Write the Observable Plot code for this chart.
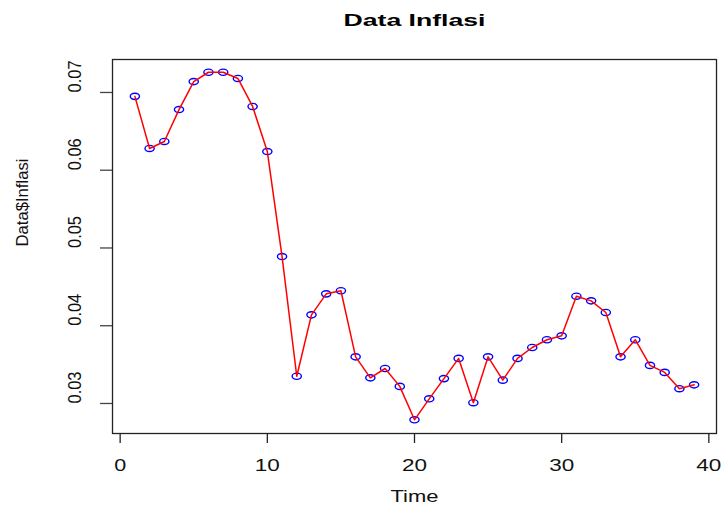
<!DOCTYPE html>
<html>
<head>
<meta charset="utf-8">
<script src="https://cdn.jsdelivr.net/npm/d3@7"></script>
<script src="https://cdn.jsdelivr.net/npm/@observablehq/plot@0.6"></script>
<style>
  html, body { margin: 0; padding: 0; background: #fff; }
  svg { font-family: "Liberation Sans", Arial, sans-serif; }
</style>
</head>
<body>
<div id="chart"></div>
<script>
const time = Array.from({length: 39}, (_, i) => i + 1);
const inflasi = [
  0.0695, 0.0628, 0.0637, 0.0678, 0.0714, 0.0726, 0.0726, 0.0718, 0.0682, 0.0624,
  0.0489, 0.0335, 0.0414, 0.0441, 0.0445, 0.0360, 0.0333, 0.0345, 0.0322, 0.0279,
  0.0306, 0.0332, 0.0358, 0.0301, 0.0360, 0.0330, 0.0358, 0.0372, 0.0382, 0.0387,
  0.0438, 0.0432, 0.0417, 0.0360, 0.0382, 0.0349, 0.0340, 0.0319, 0.0324
];
const xTicks = [0, 10, 20, 30, 40];
const yTicks = [0.03, 0.04, 0.05, 0.06, 0.07];
const title = "Data Inflasi";
const xLabel = "Time";
const yLabel = "Data$Inflasi";

const data = time.map((t, i) => ({t, v: inflasi[i]}));

const ellipse = {
  draw(context) {
    const rx = 4.6, ry = 3.1, k = 0.5523;
    context.moveTo(rx, 0);
    context.bezierCurveTo(rx, k * ry, k * rx, ry, 0, ry);
    context.bezierCurveTo(-k * rx, ry, -rx, k * ry, -rx, 0);
    context.bezierCurveTo(-rx, -k * ry, -k * rx, -ry, 0, -ry);
    context.bezierCurveTo(k * rx, -ry, rx, -k * ry, rx, 0);
    context.closePath();
  }
};

const chart = Plot.plot({
  width: 722,
  height: 508,
  marginLeft: 112,
  marginRight: 6,
  marginTop: 59,
  marginBottom: 75,
  style: {fontFamily: "Liberation Sans, Arial, sans-serif", background: "#fff"},
  x: {domain: [-0.52, 40.52], axis: null},
  y: {domain: [0.02614, 0.07424], axis: null},
  marks: [
    Plot.frame({stroke: "#222", strokeWidth: 1.3}),
    Plot.axisX({ticks: xTicks, tickSize: 10, tickFormat: () => "", label: null, stroke: "#222", strokeWidth: 1.3}),
    Plot.axisY({ticks: yTicks, tickSize: 12, tickFormat: () => "", label: null, stroke: "#444", strokeWidth: 1.3}),
    Plot.text(xTicks, {x: d => d, text: d => String(d), frameAnchor: "bottom", lineAnchor: "middle", dy: 32, fontSize: 17, fill: "#111"}),
    Plot.text(yTicks, {y: d => d, text: d => d.toFixed(2), frameAnchor: "left", dx: -37, rotate: -90, fontSize: 18, fill: "#111"}),
    Plot.text([xLabel], {text: d => d, frameAnchor: "bottom", lineAnchor: "middle", dy: 63, fontSize: 17, fill: "#111"}),
    Plot.text([yLabel], {text: d => d, frameAnchor: "left", dx: -90, rotate: -90, fontSize: 17, fill: "#111"}),
    Plot.text([title], {text: d => d, frameAnchor: "top", lineAnchor: "middle", dy: -39, fontSize: 17, fontWeight: "bold", fill: "#000"}),
    Plot.dot(data, {x: "t", y: "v", symbol: ellipse, stroke: "#0000FF", strokeWidth: 1.4, fill: "none"}),
    Plot.line(data, {x: "t", y: "v", stroke: "#FF0000", strokeWidth: 1.5})
  ]
});

const lengths = {
  "Data Inflasi": 142, "Time": 48, "Data$Inflasi": 88,
  "0": 12, "10": 25, "20": 25, "30": 25, "40": 25,
  "0.03": 32, "0.04": 32, "0.05": 32, "0.06": 32, "0.07": 32
};
d3.select(chart).selectAll("text").each(function() {
  const t = this.textContent.trim();
  if (lengths[t] !== undefined && t !== "") {
    this.setAttribute("textLength", lengths[t]);
    this.setAttribute("lengthAdjust", "spacingAndGlyphs");
  }
});

document.getElementById("chart").appendChild(chart);
</script>
</body>
</html>
